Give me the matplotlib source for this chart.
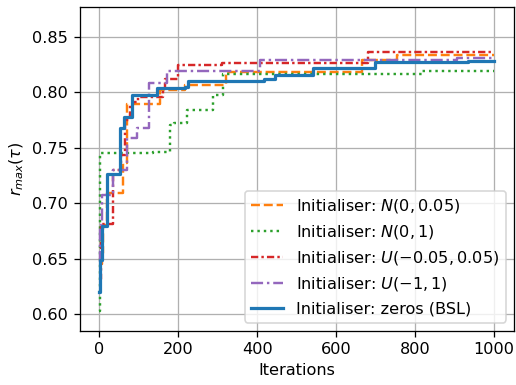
import matplotlib
matplotlib.use("Agg")
import matplotlib.pyplot as plt

# Data (step curves: iteration where value changes, best value so far)
it_n005 = [0, 8, 10, 20, 59, 69, 154, 217, 322, 664, 753, 1000]
r_n005 = [0.645, 0.655, 0.68, 0.709, 0.736, 0.7895, 0.802, 0.806, 0.8186, 0.829, 0.8336, 0.8336]

it_n1 = [0, 2, 137, 179, 190, 221, 289, 314, 817, 1000]
r_n1 = [0.603, 0.745, 0.7465, 0.770, 0.772, 0.784, 0.7975, 0.8162, 0.8195, 0.8195]

it_u005 = [0, 4, 35, 55, 65, 78, 86, 98, 162, 166, 200, 310, 681, 1000]
r_u005 = [0.632, 0.681, 0.730, 0.7435, 0.775, 0.789, 0.7915, 0.796, 0.8027, 0.812, 0.8246, 0.8261, 0.836, 0.836]

it_u1 = [0, 3, 8, 36, 69, 95, 127, 171, 407, 905, 1000]
r_u1 = [0.647, 0.68, 0.707, 0.730, 0.759, 0.7676, 0.808, 0.8195, 0.829, 0.8306, 0.8306]

it_zeros = [0, 1, 6, 19, 53, 62, 82, 145, 217, 225, 416, 445, 540, 698, 934, 1000]
r_zeros = [0.620, 0.649, 0.679, 0.726, 0.7676, 0.778, 0.797, 0.8036, 0.8048, 0.8102, 0.8117, 0.8153, 0.8216, 0.8270, 0.8282, 0.8282]

labels = [r"Initialiser: $N(0, 0.05)$", r"Initialiser: $N(0, 1)$",
          r"Initialiser: $U(-0.05, 0.05)$", r"Initialiser: $U(-1, 1)$",
          "Initialiser: zeros (BSL)"]

fig = plt.figure(figsize=(516 / 116, 385 / 116), dpi=116)
ax = fig.add_axes([0.1541, 0.141, 0.9961 - 0.1541, 0.9826 - 0.141])

ax.plot(it_n005, r_n005, drawstyle="steps-post", color="C1", ls=(0, (3.7, 1.6)), lw=1.5, label=labels[0])
ax.plot(it_n1, r_n1, drawstyle="steps-post", color="C2", ls=":", lw=1.5, label=labels[1])
ax.plot(it_u005, r_u005, drawstyle="steps-post", color="C3", ls=(0, (3, 1.3, 1, 1.3)), lw=1.5, label=labels[2])
ax.plot(it_u1, r_u1, drawstyle="steps-post", color="C4", ls=(0, (5, 1.6, 1, 1.6)), lw=1.5, label=labels[3])
ax.plot(it_zeros, r_zeros, drawstyle="steps-post", color="C0", ls="-", lw=2, label=labels[4])

ax.set_xlim(-50, 1050)
ax.set_ylim(0.585, 0.877)
ax.set_xticks([0, 200, 400, 600, 800, 1000])
ax.set_yticks([0.60, 0.65, 0.70, 0.75, 0.80, 0.85])
ax.grid(True)
ax.set_xlabel("Iterations")
ax.set_ylabel(r"$r_{max}(\tau)$")
ax.legend(loc="lower right")

fig.savefig("out.png", dpi=116)
